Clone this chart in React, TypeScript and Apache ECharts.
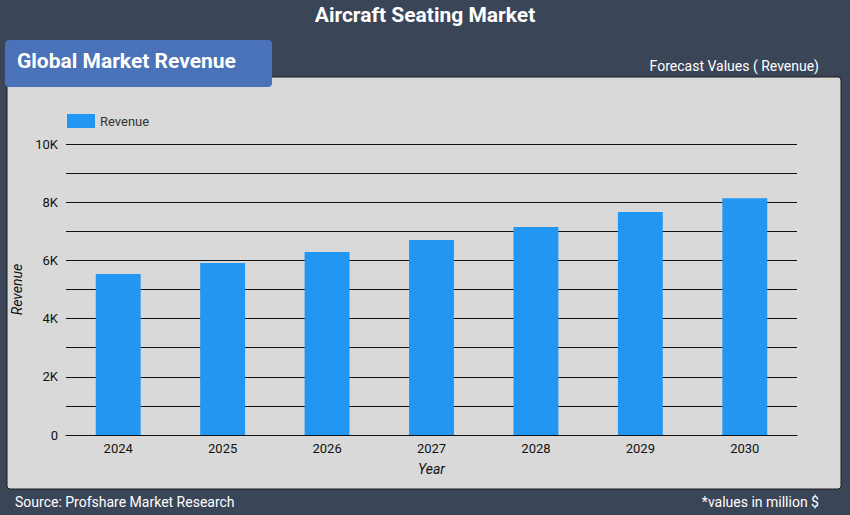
import React, { useEffect, useRef } from "react";
import * as echarts from "echarts";

const years = ["2024", "2025", "2026", "2027", "2028", "2029", "2030"];
const revenue = [5530, 5910, 6290, 6700, 7150, 7660, 8140];

export default function App() {
  const ref = useRef<HTMLDivElement>(null);

  useEffect(() => {
    if (!ref.current) return;
    const chart = echarts.init(ref.current, null, { renderer: "svg" });
    chart.setOption({
      animation: false,
      backgroundColor: "#3b4558",
      textStyle: { fontFamily: "Roboto" },
      graphic: [
        {
          type: "rect",
          shape: { x: 7, y: 77, width: 834, height: 412, r: 3 },
          style: { fill: "#d9d9d9", stroke: "#1a1a1a", lineWidth: 1 },
          z: -10,
        },
        {
          type: "rect",
          shape: { x: 5, y: 40, width: 267, height: 47, r: 4 },
          style: { fill: "#4a72b8" },
          z: 10,
        },
        {
          type: "text",
          x: 17,
          y: 61,
          style: { text: "Global Market Revenue", fill: "#fff", font: "bold 21px Roboto", verticalAlign: "middle" },
          z: 11,
        },
        {
          type: "text",
          x: 425,
          y: 15,
          style: { text: "Aircraft Seating Market", fill: "#fff", font: "bold 21px Roboto", align: "center", verticalAlign: "middle" },
        },
        {
          type: "text",
          x: 819,
          y: 66,
          style: { text: "Forecast Values ( Revenue)", fill: "#fff", font: "14px Roboto", align: "right", verticalAlign: "middle" },
        },
        {
          type: "text",
          x: 15,
          y: 502,
          style: { text: "Source: Profshare Market Research", fill: "#fff", font: "14px Roboto", verticalAlign: "middle" },
        },
        {
          type: "text",
          x: 819,
          y: 502,
          style: { text: "*values in million $", fill: "#fff", font: "14px Roboto", align: "right", verticalAlign: "middle" },
        },
      ],
      legend: {
        left: 62,
        top: 109,
        icon: "rect",
        itemWidth: 28,
        itemHeight: 14,
        textStyle: { color: "#333", fontSize: 13 },
        data: ["Revenue"],
      },
      grid: { left: 66, right: 53, top: 144, bottom: 80 },
      xAxis: {
        type: "category",
        data: years,
        name: "Year",
        nameLocation: "middle",
        nameGap: 27,
        nameTextStyle: { fontStyle: "italic", fontSize: 14, color: "#111" },
        axisLine: { lineStyle: { color: "#111" } },
        axisTick: { show: false },
        axisLabel: { color: "#111", fontSize: 13, margin: 7 },
      },
      yAxis: {
        type: "value",
        min: 0,
        max: 10000,
        interval: 1000,
        name: "Revenue",
        nameLocation: "middle",
        nameGap: 40,
        nameTextStyle: { fontStyle: "italic", fontSize: 14, color: "#111" },
        axisLabel: {
          color: "#111",
          fontSize: 13,
          formatter: (v: number) => (v % 2000 !== 0 ? "" : v === 0 ? "0" : v / 1000 + "K"),
        },
        splitLine: { lineStyle: { color: "#111", width: 1 } },
      },
      series: [
        {
          name: "Revenue",
          type: "bar",
          data: revenue,
          barWidth: "43%",
          itemStyle: { color: "#2196f3" },
        },
      ],
    });
    return () => chart.dispose();
  }, []);

  return <div ref={ref} style={{ position: "fixed", left: 0, top: 0, width: 850, height: 515 }} />;
}
